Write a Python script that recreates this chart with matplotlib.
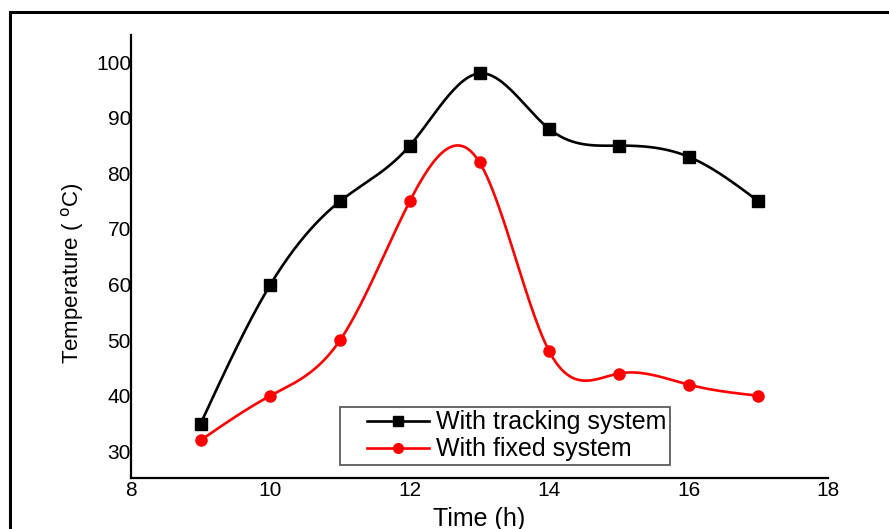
import numpy as np
import matplotlib
matplotlib.use("Agg")
import matplotlib.pyplot as plt
from matplotlib.patches import Rectangle
from matplotlib.legend_handler import HandlerLine2D

hours = [9, 10, 11, 12, 13, 14, 15, 16, 17]
tracking = [35, 60, 75, 85, 98, 88, 85, 83, 75]
fixed = [32, 40, 50, 75, 82, 48, 44, 42, 40]
x_ticks = [8, 10, 12, 14, 16, 18]
y_ticks = [30, 40, 50, 60, 70, 80, 90, 100]
labels = ["With tracking system", "With fixed system"]


def natural_spline(x, y, n=400):
    x = np.asarray(x, float)
    y = np.asarray(y, float)
    k = len(x)
    h = np.diff(x)
    A = np.zeros((k, k))
    b = np.zeros(k)
    A[0, 0] = 1
    A[-1, -1] = 1
    for i in range(1, k - 1):
        A[i, i - 1] = h[i - 1]
        A[i, i] = 2 * (h[i - 1] + h[i])
        A[i, i + 1] = h[i]
        b[i] = 3 * ((y[i + 1] - y[i]) / h[i] - (y[i] - y[i - 1]) / h[i - 1])
    c = np.linalg.solve(A, b)
    xs = np.linspace(x[0], x[-1], n)
    ys = np.empty_like(xs)
    for j, xv in enumerate(xs):
        i = min(np.searchsorted(x, xv, side="right") - 1, k - 2)
        dx = xv - x[i]
        bi = (y[i + 1] - y[i]) / h[i] - h[i] * (c[i + 1] + 2 * c[i]) / 3
        di = (c[i + 1] - c[i]) / (3 * h[i])
        ys[j] = y[i] + bi * dx + c[i] * dx ** 2 + di * dx ** 3
    return xs, ys


class ShortHandler(HandlerLine2D):
    def get_xdata(self, legend, xdescent, ydescent, width, height, fontsize):
        start = -xdescent + width * 0.27
        end = -xdescent + width
        xdata = np.array([start, end])
        return xdata, np.array([(start + end) / 2])


plt.rcParams["font.family"] = ["Liberation Sans", "DejaVu Sans"]

fig = plt.figure(figsize=(8.89, 5.29), dpi=100)
ax = fig.add_axes([131 / 889, 1 - 478 / 529, 697 / 889, 443 / 529])

# figure frame
fig.patches.append(Rectangle((10 / 889, -0.1), 1.2, 1 - 12 / 529 + 0.1,
                             transform=fig.transFigure, fill=False,
                             edgecolor="black", linewidth=2.2, zorder=0))

handles = []
for ys, color, marker, ms, lab in [(tracking, "black", "s", 8, labels[0]),
                                   (fixed, "#ff0000", "o", 8, labels[1])]:
    sx, sy = natural_spline(hours, ys)
    ax.plot(sx, sy, color=color, linewidth=1.9, zorder=2)
    ax.plot(hours, ys, linestyle="none", marker=marker, markersize=ms,
            color=color, zorder=3)
    h, = ax.plot([], [], color=color, linewidth=1.9, marker=marker,
                 markersize=ms - 1, label=lab)
    handles.append(h)

ax.set_xlim(8, 18)
ax.set_ylim(25.2, 104.9)
ax.set_xticks(x_ticks)
ax.set_yticks(y_ticks)
ax.tick_params(length=0, labelsize=15, pad=2)
ax.tick_params(axis="y", pad=0)
for s in ["top", "right"]:
    ax.spines[s].set_visible(False)
for s in ["left", "bottom"]:
    ax.spines[s].set_linewidth(1.6)

ax.set_xlabel("Time (h)", fontsize=18, labelpad=5)
ax.set_ylabel("Temperature ( $^{\\rm o}$C)", fontsize=16)
ax.yaxis.set_label_coords((86 - 131) / 697, (478 - 273) / 443)

leg = ax.legend(handles=handles, loc="lower left",
                bbox_to_anchor=(0.2999, 0.0293),
                borderaxespad=0, fontsize=18, handlelength=3.4,
                frameon=True, fancybox=False, labelspacing=0.12,
                borderpad=0.15, handletextpad=0.3,
                handler_map={h: ShortHandler(numpoints=1) for h in handles})
leg.get_frame().set_edgecolor("#333333")
leg.get_frame().set_linewidth(1.3)

fig.savefig("out.png", dpi=100)
